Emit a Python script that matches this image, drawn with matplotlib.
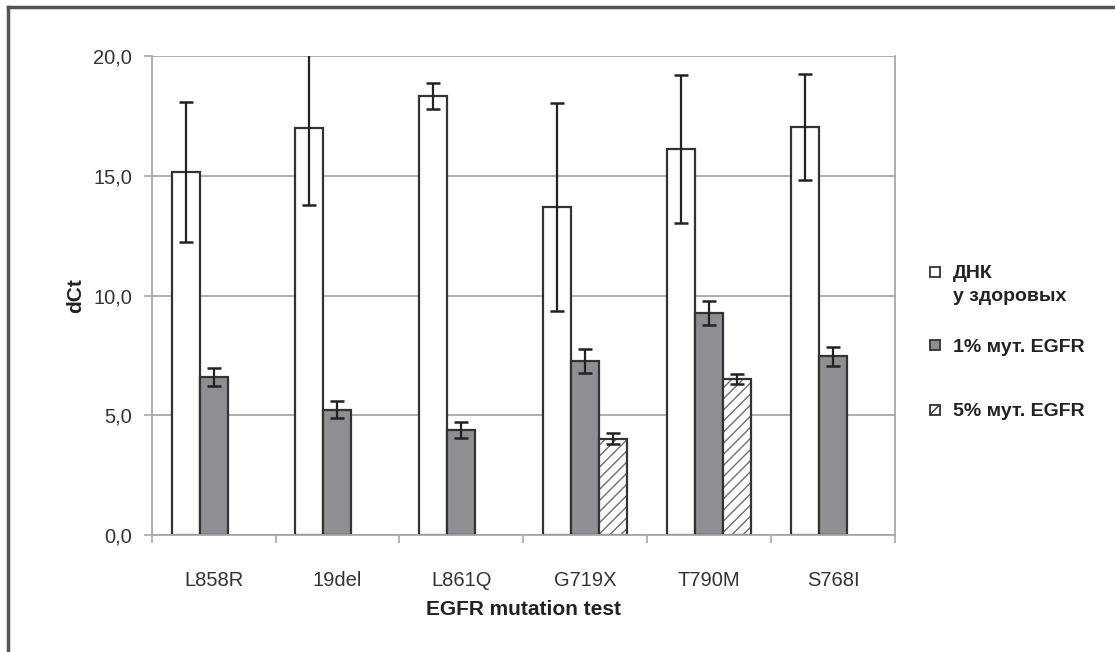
import numpy as np
import matplotlib.pyplot as plt
from matplotlib.patches import Rectangle
from matplotlib.lines import Line2D

plt.rcParams['font.family'] = ['Liberation Sans Narrow', 'Liberation Sans', 'DejaVu Sans']
plt.rcParams['hatch.linewidth'] = 1.0

# ---------- Данные ----------
tests = ["L858R", "19del", "L861Q", "G719X", "T790M", "S768I"]
healthy = [15.15, 17.0, 18.33, 13.7, 16.13, 17.05]
healthy_err = [2.93, 3.2, 0.54, 4.35, 3.08, 2.22]
mut1 = [6.6, 5.24, 4.38, 7.26, 9.26, 7.46]
mut1_err = [0.38, 0.36, 0.33, 0.5, 0.5, 0.4]
mut5 = [np.nan, np.nan, np.nan, 4.03, 6.5, np.nan]
mut5_err = [np.nan, np.nan, np.nan, 0.23, 0.21, np.nan]
labels = ["ДНК\nу здоровых", "1% мут. EGFR", "5% мут. EGFR"]

gray = "#8f8f93"
edge = "#333333"
hatch_col = "#6e6e6e"
grid = "#a8a8a8"

fig = plt.figure(figsize=(11.15, 6.52), dpi=100)
ax = fig.add_axes([0.136, 0.1794, 0.6667, 0.7346])

x = np.arange(len(tests))
w = 0.226
series = [
    (healthy, healthy_err, dict(facecolor="white", hatch=None)),
    (mut1, mut1_err, dict(facecolor=gray, hatch=None)),
    (mut5, mut5_err, dict(facecolor="white", hatch="///")),
]
for i, (vals, errs, st) in enumerate(series):
    pos = x + (i - 1) * w
    if st["hatch"]:
        # штриховка светлее, контур тёмный
        ax.bar(pos, vals, w, color=st["facecolor"], edgecolor=hatch_col, linewidth=0,
               hatch=st["hatch"], zorder=2)
        ax.bar(pos, vals, w, color="none", edgecolor=edge, linewidth=1.6, zorder=2)
    else:
        ax.bar(pos, vals, w, color=st["facecolor"], edgecolor=edge, linewidth=1.6, zorder=2)
    ax.errorbar(pos, vals, yerr=errs, fmt="none", ecolor="#222222",
                elinewidth=1.6, capsize=5, capthick=1.8, zorder=3)

ax.set_xlim(-0.5, len(tests) - 0.5)
ax.set_ylim(0, 20)
ax.set_yticks(np.arange(0, 20.1, 5))
ax.set_yticklabels([f"{v:.1f}".replace(".", ",") for v in np.arange(0, 20.1, 5)],
                   fontsize=14.5, color="#333333")
ax.set_xticks(x)
ax.set_xticklabels(tests, fontsize=14.5, color="#333333")
ax.tick_params(axis="x", length=0, pad=26)
ax.tick_params(axis="y", length=6, color=grid, width=1.2, pad=8)
ax.set_xticks(np.arange(-0.5, len(tests), 1), minor=True)
ax.tick_params(axis="x", which="minor", length=6, color=grid, width=1.2)

ax.yaxis.grid(True, color=grid, linewidth=1.3, zorder=0)
ax.set_axisbelow(True)
for s in ["left", "bottom", "right"]:
    ax.spines[s].set_color(grid)
    ax.spines[s].set_linewidth(1.3)
ax.spines["top"].set_visible(False)

ax.set_ylabel("dCt", fontsize=15, fontweight="bold", color="#222222", labelpad=6)
ax.set_xlabel("EGFR mutation test", fontsize=15, fontweight="bold", color="#222222", labelpad=7)

# ---------- Легенда ----------
leg_y = [272, 345, 410]
leg_text_y = [285, 348, 411]
for k, (lab, ys, ty) in enumerate(zip(labels, leg_y, leg_text_y)):
    st = series[k][2]
    fx, fy = 930 / 1115, 1 - (ys + 5) / 652
    fig.patches.append(Rectangle((fx, fy), 10 / 1115, 10 / 652, transform=fig.transFigure,
                                 facecolor=st["facecolor"], edgecolor=edge, linewidth=1.3,
                                 hatch=st["hatch"]))
    fig.text(953 / 1115, 1 - ty / 652, lab, fontsize=14, fontweight="bold",
             color="#222222", va="center", ha="left", linespacing=1.5)

# рамка
fig.add_artist(Line2D([8 / 1115, 8 / 1115], [0, 1 - 7 / 652], transform=fig.transFigure,
                      color="#555555", linewidth=2.5))
fig.add_artist(Line2D([8 / 1115, 1], [1 - 7 / 652, 1 - 7 / 652], transform=fig.transFigure,
                      color="#555555", linewidth=2.5))

fig.savefig("out.png", dpi=100)
